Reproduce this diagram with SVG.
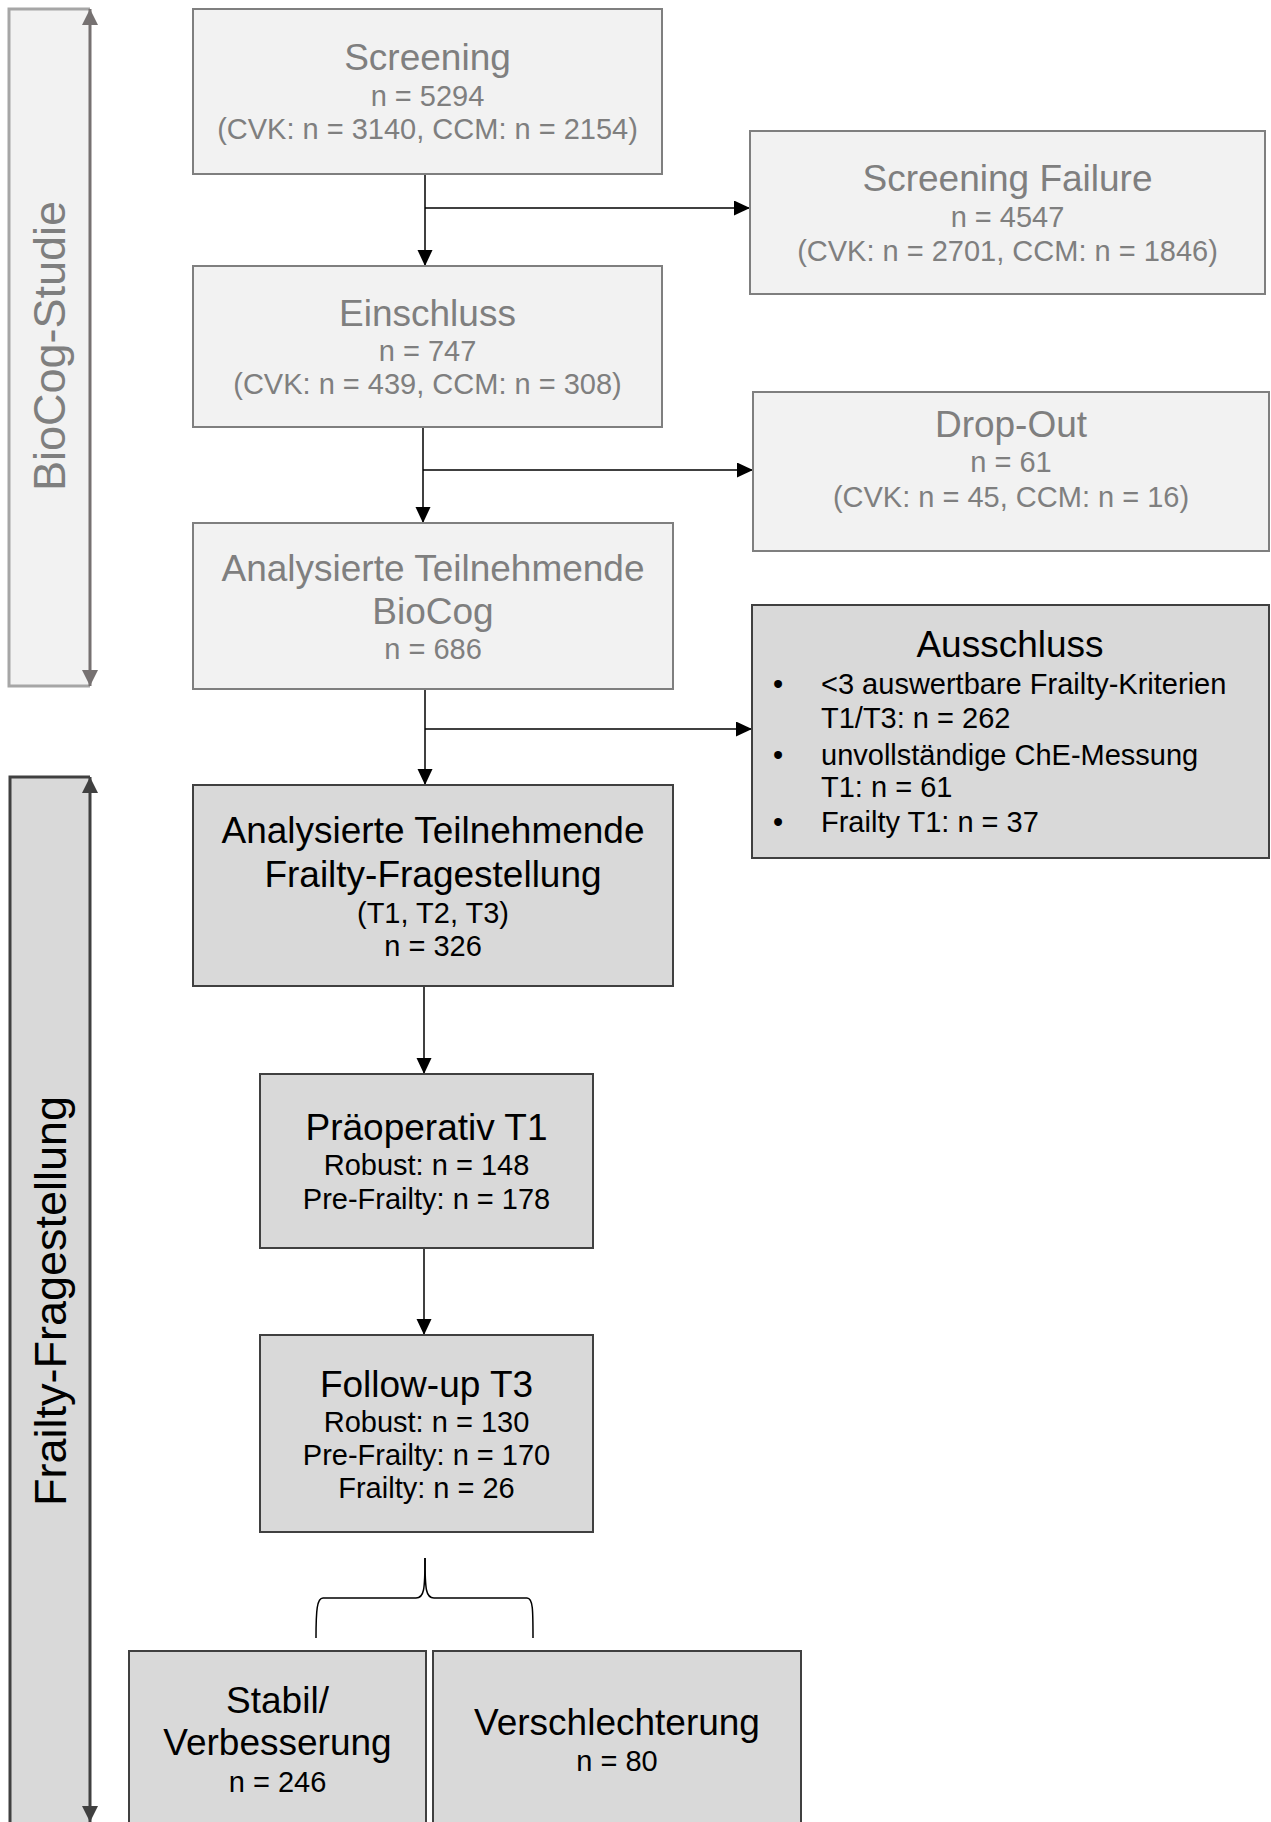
<svg xmlns="http://www.w3.org/2000/svg" width="1271" height="1822" viewBox="0 0 1271 1822">
  <style>
    text { font-family: "Liberation Sans", Arial, sans-serif; text-anchor: middle; }
    .light { fill: #f2f2f2; stroke: #7f7f7f; stroke-width: 2; }
    .dark { fill: #d9d9d9; stroke: #404040; stroke-width: 2; }
    .lt { fill: #7f7f7f; }
    .dt { fill: #000000; }
    .title { font-size: 37px; }
    .sub { font-size: 29px; }
    .conn { stroke: #000; stroke-width: 1.5; fill: none; }
    .bul { text-anchor: start; font-size: 29px; fill: #000; }
  </style>
  <defs>
    <marker id="ah" markerUnits="userSpaceOnUse" markerWidth="16" markerHeight="16" refX="16" refY="7.5" orient="auto">
      <path d="M0,0 L16,7.5 L0,15 z" fill="#000"/>
    </marker>
    <marker id="ahg" markerUnits="userSpaceOnUse" markerWidth="17" markerHeight="17" refX="16" refY="8" orient="auto-start-reverse">
      <path d="M0,0 L16,8 L0,16 z" fill="#767171"/>
    </marker>
    <marker id="ahd" markerUnits="userSpaceOnUse" markerWidth="17" markerHeight="17" refX="16" refY="8" orient="auto-start-reverse">
      <path d="M0,0 L16,8 L0,16 z" fill="#404040"/>
    </marker>
  </defs>

  <g id="panel-biocog">
    <rect x="9" y="9" width="81" height="677" fill="#f2f2f2"/>
    <path d="M90,9 L9,9 L9,686 L90,686" fill="none" stroke="#a6a6a6" stroke-width="3"/>
    <line x1="90" y1="9" x2="90" y2="686" stroke="#767171" stroke-width="3" marker-start="url(#ahg)" marker-end="url(#ahg)"/>
    <text transform="translate(65,346) rotate(-90)" x="0" y="0" font-size="45" class="lt">BioCog-Studie</text>
  </g>

  <g id="panel-frailty">
    <rect x="10" y="777" width="80" height="1060" fill="#d9d9d9"/>
    <path d="M90,777 L10,777 L10,1840" fill="none" stroke="#404040" stroke-width="3"/>
    <line x1="90" y1="777" x2="90" y2="1822" stroke="#404040" stroke-width="3" marker-start="url(#ahd)" marker-end="url(#ahd)"/>
    <text transform="translate(66,1301) rotate(-90)" x="0" y="0" font-size="45" class="dt">Frailty-Fragestellung</text>
  </g>

  <g id="connectors">
    <line class="conn" x1="425" y1="174" x2="425" y2="266" marker-end="url(#ah)"/>
    <line class="conn" x1="425" y1="208" x2="750" y2="208" marker-end="url(#ah)"/>
    <line class="conn" x1="423" y1="427" x2="423" y2="523" marker-end="url(#ah)"/>
    <line class="conn" x1="423" y1="470" x2="753" y2="470" marker-end="url(#ah)"/>
    <line class="conn" x1="425" y1="689" x2="425" y2="785" marker-end="url(#ah)"/>
    <line class="conn" x1="425" y1="729" x2="752" y2="729" marker-end="url(#ah)"/>
    <line class="conn" x1="424" y1="986" x2="424" y2="1074" marker-end="url(#ah)"/>
    <line class="conn" x1="424" y1="1248" x2="424" y2="1335" marker-end="url(#ah)"/>
    <path class="conn" d="M425,1558 C425,1590 424,1598 416,1598 L323,1598 C317,1598 316,1610 316,1638"/>
    <path class="conn" d="M425,1558 C425,1590 426,1598 434,1598 L527,1598 C533,1598 533,1610 533,1638"/>
  </g>

  <g id="screening">
    <rect class="light" x="193" y="9" width="469" height="165"/>
    <text class="lt title" x="427.5" y="70">Screening</text>
    <text class="lt sub" x="427.5" y="106">n = 5294</text>
    <text class="lt sub" x="427.5" y="139">(CVK: n = 3140, CCM: n = 2154)</text>
  </g>

  <g id="screening-failure">
    <rect class="light" x="750" y="131" width="515" height="163"/>
    <text class="lt title" x="1007.5" y="191">Screening Failure</text>
    <text class="lt sub" x="1007.5" y="227">n = 4547</text>
    <text class="lt sub" x="1007.5" y="261">(CVK: n = 2701, CCM: n = 1846)</text>
  </g>

  <g id="einschluss">
    <rect class="light" x="193" y="266" width="469" height="161"/>
    <text class="lt title" x="427.5" y="326">Einschluss</text>
    <text class="lt sub" x="427.5" y="361">n = 747</text>
    <text class="lt sub" x="427.5" y="394">(CVK: n = 439, CCM: n = 308)</text>
  </g>

  <g id="drop-out">
    <rect class="light" x="753" y="392" width="516" height="159"/>
    <text class="lt title" x="1011" y="437">Drop-Out</text>
    <text class="lt sub" x="1011" y="472">n = 61</text>
    <text class="lt sub" x="1011" y="507">(CVK: n = 45, CCM: n = 16)</text>
  </g>

  <g id="analysierte-biocog">
    <rect class="light" x="193" y="523" width="480" height="166"/>
    <text class="lt title" x="433" y="581">Analysierte Teilnehmende</text>
    <text class="lt title" x="433" y="624">BioCog</text>
    <text class="lt sub" x="433" y="659">n = 686</text>
  </g>

  <g id="ausschluss">
    <rect class="dark" x="752" y="605" width="517" height="253"/>
    <text class="dt title" x="1010" y="657">Ausschluss</text>
    <text class="bul" x="773" y="694">•</text>
    <text class="bul" x="821" y="694">&lt;3 auswertbare Frailty-Kriterien</text>
    <text class="bul" x="821" y="728">T1/T3: n = 262</text>
    <text class="bul" x="773" y="765">•</text>
    <text class="bul" x="821" y="765">unvollständige ChE-Messung</text>
    <text class="bul" x="821" y="797">T1: n = 61</text>
    <text class="bul" x="773" y="832">•</text>
    <text class="bul" x="821" y="832">Frailty T1: n = 37</text>
  </g>

  <g id="analysierte-frailty">
    <rect class="dark" x="193" y="785" width="480" height="201"/>
    <text class="dt title" x="433" y="843">Analysierte Teilnehmende</text>
    <text class="dt title" x="433" y="887">Frailty-Fragestellung</text>
    <text class="dt sub" x="433" y="923">(T1, T2, T3)</text>
    <text class="dt sub" x="433" y="956">n = 326</text>
  </g>

  <g id="praeoperativ">
    <rect class="dark" x="260" y="1074" width="333" height="174"/>
    <text class="dt title" x="426.5" y="1140">Präoperativ T1</text>
    <text class="dt sub" x="426.5" y="1175">Robust: n = 148</text>
    <text class="dt sub" x="426.5" y="1209">Pre-Frailty: n = 178</text>
  </g>

  <g id="follow-up">
    <rect class="dark" x="260" y="1335" width="333" height="197"/>
    <text class="dt title" x="426.5" y="1397">Follow-up T3</text>
    <text class="dt sub" x="426.5" y="1432">Robust: n = 130</text>
    <text class="dt sub" x="426.5" y="1465">Pre-Frailty: n = 170</text>
    <text class="dt sub" x="426.5" y="1498">Frailty: n = 26</text>
  </g>

  <g id="stabil">
    <rect class="dark" x="129" y="1651" width="297" height="190"/>
    <text class="dt title" x="277.5" y="1713">Stabil/</text>
    <text class="dt title" x="277.5" y="1755">Verbesserung</text>
    <text class="dt sub" x="277.5" y="1792">n = 246</text>
  </g>

  <g id="verschlechterung">
    <rect class="dark" x="433" y="1651" width="368" height="190"/>
    <text class="dt title" x="617" y="1735">Verschlechterung</text>
    <text class="dt sub" x="617" y="1771">n = 80</text>
  </g>
</svg>
